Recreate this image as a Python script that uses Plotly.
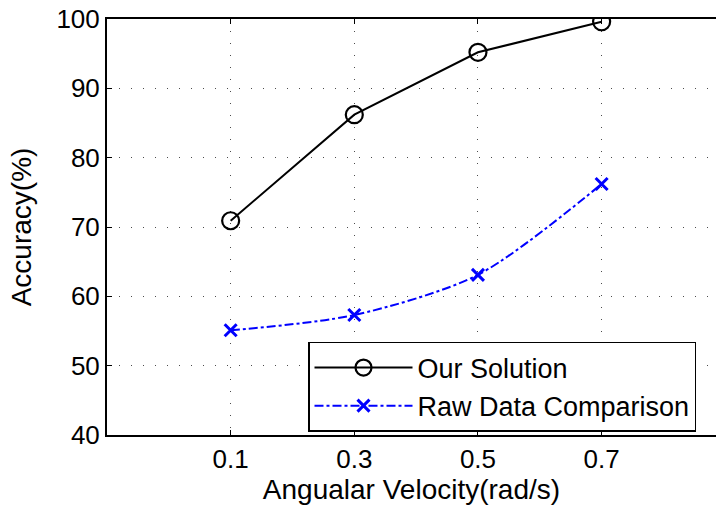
import plotly.graph_objects as go

velocity = [0.1, 0.3, 0.5, 0.7]
our_solution = [70.9, 86.2, 95.2, 99.6]
raw_data = [55.1, 57.3, 63.1, 76.2]
x_ticks = [0.1, 0.3, 0.5, 0.7]
x_tick_labels = ["0.1", "0.3", "0.5", "0.7"]
y_ticks = [40, 50, 60, 70, 80, 90, 100]

FONT = "Liberation Sans, Arial, Helvetica, sans-serif"

fig = go.Figure()
fig.add_trace(go.Scatter(
    x=velocity, y=our_solution, name="Our Solution", mode="lines+markers",
    line=dict(color="black", width=2),
    marker=dict(symbol="circle-open", size=17, color="black", line=dict(width=2.2)),
))
fig.add_trace(go.Scatter(
    x=velocity, y=raw_data, name="Raw Data Comparison", mode="lines+markers",
    line=dict(color="#0000FF", width=2, dash="dashdot", shape="spline", smoothing=0.8),
    marker=dict(symbol="x-thin-open", size=12, color="#0000FF", line=dict(width=3, color="#0000FF")),
))

axis_common = dict(
    showline=True, linecolor="black", linewidth=2,
    ticks="inside", ticklen=5, tickwidth=1, tickcolor="black",
    showgrid=True, gridcolor="rgba(0,0,0,0.7)", gridwidth=1, griddash="1px,11px",
    zeroline=False, automargin=False,
    tickfont=dict(family=FONT, size=26, color="black"),
)

fig.update_xaxes(
    range=[-0.1, 0.885], tickvals=x_ticks, ticktext=x_tick_labels, mirror="ticks",
    title=dict(text="Angualar Velocity(rad/s)", font=dict(family=FONT, size=28, color="black"), standoff=2),
    **axis_common,
)
fig.update_yaxes(
    range=[40, 100], tickvals=y_ticks,
    title=dict(text="Accuracy(%)", font=dict(family=FONT, size=28, color="black"), standoff=17),
    **axis_common,
)

fig.update_layout(
    width=716, height=512,
    margin=dict(l=107, r=0, t=19, b=77),
    paper_bgcolor="white", plot_bgcolor="white",
    showlegend=True,
    legend=dict(
        x=(308 - 107) / 609, y=0.2236, xanchor="left", yanchor="top",
        bgcolor="white", bordercolor="black", borderwidth=1.5,
        font=dict(family=FONT, size=27, color="black"),
        itemwidth=98, tracegroupgap=0,
    ),
)

fig.write_html(
    "out.html",
    config={"displayModeBar": False},
    post_script="document.body.style.margin='0px';document.body.style.overflow='hidden';",
)
